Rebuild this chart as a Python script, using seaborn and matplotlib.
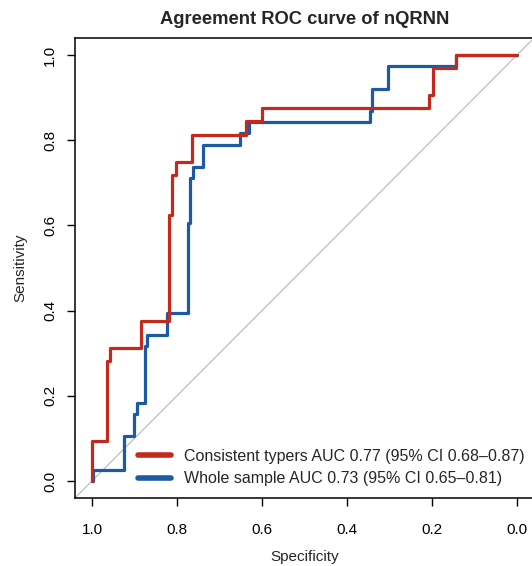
import pandas as pd
import seaborn as sns
import matplotlib
matplotlib.use("Agg")
import matplotlib.pyplot as plt

# ROC corner points (specificity, sensitivity)
consistent_spec = [1.0, 1.0, 0.965, 0.958, 0.885, 0.82, 0.812, 0.802, 0.765,
                   0.638, 0.6, 0.207, 0.198, 0.144, 0.0]
consistent_sens = [0.0, 0.094, 0.281, 0.3125, 0.375, 0.625, 0.719, 0.75, 0.8125,
                   0.844, 0.875, 0.906, 0.969, 1.0, 1.0]

whole_spec = [1.0, 0.997, 0.925, 0.9, 0.894, 0.875, 0.87, 0.823, 0.774, 0.769,
              0.762, 0.739, 0.652, 0.63, 0.346, 0.341, 0.304, 0.144, 0.0]
whole_sens = [0.0, 0.026, 0.105, 0.158, 0.184, 0.316, 0.342, 0.395, 0.605, 0.711,
              0.737, 0.789, 0.816, 0.842, 0.868, 0.921, 0.974, 1.0, 1.0]

labels = ["Consistent typers AUC 0.77 (95% CI 0.68\u20130.87)",
          "Whole sample AUC 0.73 (95% CI 0.65\u20130.81)"]
colors = ["#C42A1C", "#1C5AA6"]
ticks = [1.0, 0.8, 0.6, 0.4, 0.2, 0.0]

sns.set_theme(style="ticks")
plt.rcParams['font.family'] = ['Liberation Sans', 'DejaVu Sans']

fig = plt.figure(figsize=(5.32, 5.66), dpi=100)
ax = fig.add_axes([75 / 532, 68 / 566, 459 / 532, 460 / 566])

# chance diagonal
ax.axline((1, 0), (0, 1), color="#BDBDBD", lw=0.9, zorder=1)

whole = pd.DataFrame({"spec": whole_spec, "sens": whole_sens})
cons = pd.DataFrame({"spec": consistent_spec, "sens": consistent_sens})
sns.lineplot(data=whole, x="spec", y="sens", sort=False, estimator=None,
             drawstyle="steps-post", color=colors[1], lw=2.3, ax=ax, zorder=2)
sns.lineplot(data=cons, x="spec", y="sens", sort=False, estimator=None,
             drawstyle="steps-post", color=colors[0], lw=2.3, ax=ax, zorder=3)

ax.set_xlim(1.04, -0.04)
ax.set_ylim(-0.04, 1.04)
ax.set_xticks(ticks)
ax.set_yticks(ticks)
ax.set_xticklabels([f"{t:.1f}" for t in ticks])
ax.set_yticklabels([f"{t:.1f}" for t in ticks], rotation=90, va="center")
ax.tick_params(axis="both", length=6, width=1, labelsize=11, color="black",
               labelcolor="black")
ax.tick_params(axis="x", pad=12)
ax.tick_params(axis="y", pad=7)
for s in ax.spines.values():
    s.set_linewidth(1.1)
    s.set_color("black")

ax.set_xlabel("Specificity", fontsize=11, labelpad=9)
ax.set_ylabel("Sensitivity", fontsize=11, labelpad=11)
ax.set_title("Agreement ROC curve of nQRNN", fontsize=13.2, fontweight="bold", pad=10)

handles = [plt.Line2D([], [], color=c, lw=4) for c in colors]
ax.legend(handles, labels, loc="lower left", bbox_to_anchor=(0.123, 0.012),
          borderaxespad=0, frameon=False, fontsize=11.5, handlelength=2.1,
          handletextpad=0.8, labelspacing=0.44)

fig.savefig("out.png", dpi=100)
